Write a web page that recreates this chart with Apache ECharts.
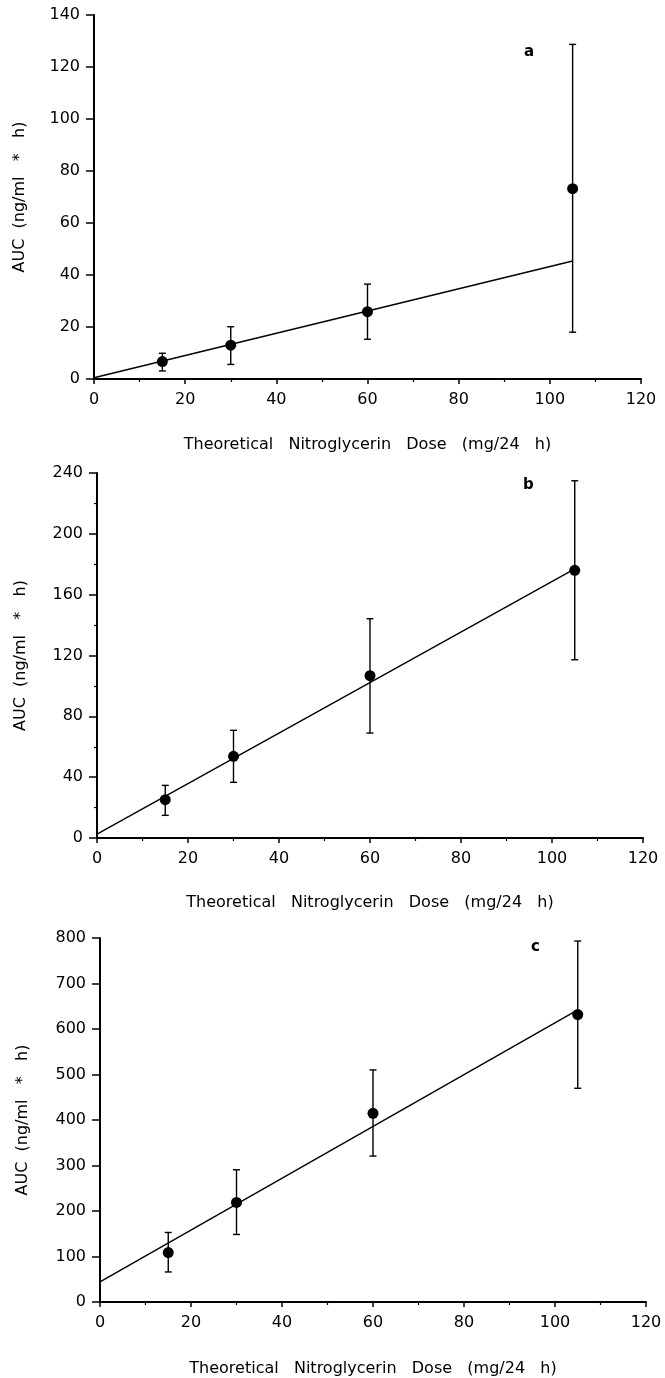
<!DOCTYPE html>
<html>
<head>
<meta charset="utf-8">
<script src="https://cdn.jsdelivr.net/npm/echarts@6/dist/echarts.min.js"></script>
<style>
  html, body { margin: 0; padding: 0; background: #fff; }
  #chart { width: 665px; height: 1378px; }
</style>
</head>
<body>
<div id="chart"></div>
<script>
// dose levels (mg/24 h)
var doses = [15, 30, 60, 105];

// panel a
var aMean = [6.7, 13.0, 25.9, 73.2];
var aLow = [3.1, 5.6, 15.3, 18.0];
var aHigh = [9.9, 20.1, 36.5, 128.7];
var aFit = [[0, 0.5], [105, 45.4]];

// panel b
var bMean = [25.2, 53.7, 106.7, 176.0];
var bLow = [14.9, 36.6, 69.0, 117.2];
var bHigh = [34.6, 70.8, 144.2, 234.9];
var bFit = [[0, 2.6], [105, 177]];

// panel c
var cMean = [108.7, 218.8, 414.7, 631.8];
var cLow = [66.0, 148.4, 320.7, 469.7];
var cHigh = [152.8, 290.6, 510.0, 793.3];
var cFit = [[0, 44], [105, 642]];

var xTitle = 'Theoretical   Nitroglycerin   Dose   (mg/24   h)';
var yTitle = 'AUC  (ng/ml   *   h)';
var fontFam = '"DejaVu Sans", sans-serif';

var chart = echarts.init(document.getElementById('chart'));

function pts(means) {
	return doses.map(function(d, i) { return [d, means[i]]; });
}
function bars(low, high) {
	return doses.map(function(d, i) { return [d, low[i], high[i]]; });
}

//误差线
function renderBar(params, api) {
	var x = api.value(0);
	var lo = api.coord([x, api.value(1)]);
	var hi = api.coord([x, api.value(2)]);
	var w = 3.5;
	var st = { stroke: '#000', lineWidth: 1.4 };
	return {
		type: 'group',
		children: [
			{ type: 'line', shape: { x1: lo[0], y1: lo[1], x2: hi[0], y2: hi[1] }, style: st },
			{ type: 'line', shape: { x1: lo[0] - w, y1: lo[1], x2: lo[0] + w, y2: lo[1] }, style: st },
			{ type: 'line', shape: { x1: hi[0] - w, y1: hi[1], x2: hi[0] + w, y2: hi[1] }, style: st }
		]
	};
}

function xAxisOf(idx, gap) {
	return {
		type: 'value', gridIndex: idx, min: 0, max: 120, interval: 20,
		name: xTitle, nameLocation: 'middle', nameGap: gap,
		nameTextStyle: { color: '#000', fontSize: 16, fontFamily: fontFam },
		axisLine: { lineStyle: { color: '#000', width: 2 } },
		axisTick: { length: 5, lineStyle: { color: '#000', width: 1.5 } },
		minorTick: { show: true, splitNumber: 2, length: 3, lineStyle: { color: '#000', width: 1.2 } },
		axisLabel: { color: '#000', fontSize: 16, fontFamily: fontFam, margin: 13 },
		splitLine: { show: false }
	};
}
function yAxisOf(idx, max, step, gap, minor) {
	return {
		type: 'value', gridIndex: idx, min: 0, max: max, interval: step,
		name: yTitle, nameLocation: 'middle', nameGap: gap,
		nameTextStyle: { color: '#000', fontSize: 16, fontFamily: fontFam },
		axisLine: { show: true, lineStyle: { color: '#000', width: 2 } },
		axisTick: { show: true, length: 8, lineStyle: { color: '#000', width: 1.5 } },
		minorTick: { show: minor, splitNumber: 2, length: 3, lineStyle: { color: '#000', width: 1.2 } },
		axisLabel: { color: '#000', fontSize: 16, fontFamily: fontFam, margin: 14 },
		splitLine: { show: false }
	};
}

function panelSeries(idx, means, low, high, fit) {
	return [
		{
			type: 'line', xAxisIndex: idx, yAxisIndex: idx, data: fit,
			showSymbol: false, symbol: 'none', silent: true,
			lineStyle: { color: '#000', width: 1.4 }
		},
		{
			type: 'custom', xAxisIndex: idx, yAxisIndex: idx,
			data: bars(low, high), renderItem: renderBar, silent: true, z: 3
		},
		{
			type: 'scatter', xAxisIndex: idx, yAxisIndex: idx, data: pts(means),
			symbol: 'circle', symbolSize: 11, itemStyle: { color: '#000', opacity: 1 }, z: 4
		}
	];
}

var option = {
	animation: false,
	backgroundColor: '#fff',
	grid: [
		{ left: 94, top: 15, width: 547, height: 364 },
		{ left: 97, top: 473, width: 546, height: 365 },
		{ left: 100, top: 938, width: 546, height: 364 }
	],
	xAxis: [xAxisOf(0, 58), xAxisOf(1, 57), xAxisOf(2, 59)],
	yAxis: [
		yAxisOf(0, 140, 20, 66, false),
		yAxisOf(1, 240, 40, 68, true),
		yAxisOf(2, 800, 100, 69, false)
	],
	graphic: [
		{ type: 'text', left: 524, top: 45, style: { text: 'a', fontSize: 15, fontWeight: 'bold', fontFamily: fontFam, fill: '#000' } },
		{ type: 'text', left: 523, top: 478, style: { text: 'b', fontSize: 15, fontWeight: 'bold', fontFamily: fontFam, fill: '#000' } },
		{ type: 'text', left: 531, top: 940, style: { text: 'c', fontSize: 15, fontWeight: 'bold', fontFamily: fontFam, fill: '#000' } }
	],
	series: [].concat(
		panelSeries(0, aMean, aLow, aHigh, aFit),
		panelSeries(1, bMean, bLow, bHigh, bFit),
		panelSeries(2, cMean, cLow, cHigh, cFit)
	)
};

chart.setOption(option);
</script>
</body>
</html>
